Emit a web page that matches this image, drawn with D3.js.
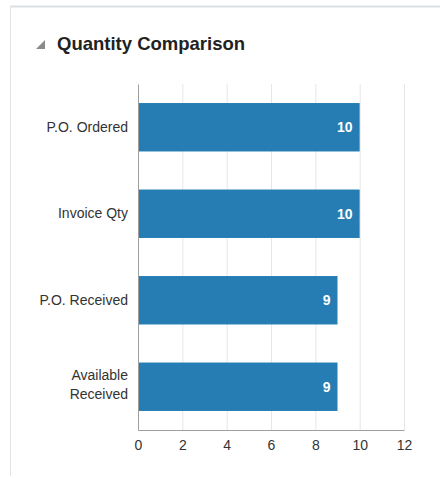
<!DOCTYPE html>
<html>
<head>
<meta charset="utf-8">
<script src="https://cdn.jsdelivr.net/npm/d3@7"></script>
<style>
  body { margin: 0; background: #fff; font-family: "Liberation Sans", Arial, sans-serif; }
</style>
</head>
<body>
<div id="chart"></div>
<script>
// data
var categories = ["P.O. Ordered", "Invoice Qty", "P.O. Received", "Available Received"];
var quantities = [10, 10, 9, 9];
var xTicks = [0, 2, 4, 6, 8, 10, 12];

var svgWidth = 440;
var svgHeight = 478;

var margin = { top: 84, right: 36, bottom: 48, left: 138 };
var width = svgWidth - margin.left - margin.right;
var height = svgHeight - margin.top - margin.bottom;

var svg = d3.select("#chart")
    .append("svg")
    .attr("width", svgWidth)
    .attr("height", svgHeight);

// panel frame
svg.append("line")
    .attr("x1", 10).attr("x2", svgWidth)
    .attr("y1", 6.5).attr("y2", 6.5)
    .attr("stroke", "#dcdfe2").attr("stroke-width", 2);
svg.append("line")
    .attr("x1", 10.5).attr("x2", 10.5)
    .attr("y1", 6).attr("y2", 476)
    .attr("stroke", "#e3e3e3");

// title
svg.append("path")
    .attr("d", "M36,49 L45,49 L45,40 Z")
    .attr("fill", "#8a8a8a");
svg.append("text")
    .attr("x", 57)
    .attr("y", 50)
    .attr("font-size", "18.5px")
    .attr("font-weight", "bold")
    .attr("fill", "#222")
    .text("Quantity Comparison");

var chartGroup = svg.append("g")
    .attr("transform", `translate(${margin.left}, ${margin.top})`);

var xScale = d3.scaleLinear()
    .domain([0, 12])
    .range([0, width]);

var yScale = d3.scaleBand()
    .domain(categories)
    .range([0, height])
    .paddingInner(0.44)
    .paddingOuter(0.22);

// gridlines
chartGroup.append("g")
    .selectAll("line")
    .data(xTicks.slice(1))
    .enter()
    .append("line")
    .attr("x1", d => xScale(d) + 0.5)
    .attr("x2", d => xScale(d) + 0.5)
    .attr("y1", 0)
    .attr("y2", height)
    .attr("stroke", "#e6e6e6");

// bars
chartGroup.selectAll(".bar")
    .data(quantities)
    .enter()
    .append("rect")
    .attr("class", "bar")
    .attr("x", 0)
    .attr("y", (d, i) => yScale(categories[i]))
    .attr("width", d => xScale(d))
    .attr("height", yScale.bandwidth())
    .attr("fill", "#267db3");

// bar labels
chartGroup.selectAll(".barLabel")
    .data(quantities)
    .enter()
    .append("text")
    .attr("class", "barLabel")
    .attr("x", d => xScale(d) - 7)
    .attr("y", (d, i) => yScale(categories[i]) + yScale.bandwidth() / 2)
    .attr("dy", "0.35em")
    .attr("text-anchor", "end")
    .attr("font-size", "14px")
    .attr("font-weight", "bold")
    .attr("fill", "#fff")
    .text(d => d);

// x axis
var bottomAxis = d3.axisBottom(xScale)
    .tickValues(xTicks)
    .tickSize(0)
    .tickPadding(10);

var xAxis = chartGroup.append("g")
    .attr("transform", `translate(0, ${height})`)
    .call(bottomAxis);
xAxis.select(".domain").attr("stroke", "#9e9e9e");
xAxis.selectAll("text")
    .attr("font-size", "14px")
    .attr("font-family", "Liberation Sans, Arial, sans-serif")
    .attr("fill", "#333");

// y axis
var leftAxis = d3.axisLeft(yScale).tickSize(0).tickPadding(10);
var yAxis = chartGroup.append("g").call(leftAxis);
yAxis.select(".domain").attr("stroke", "#9e9e9e");
yAxis.selectAll("text")
    .attr("font-size", "14px")
    .attr("font-family", "Liberation Sans, Arial, sans-serif")
    .attr("fill", "#333")
    .each(function(d) {
        var words = d.split(" ");
        if (d === "Available Received") {
            var t = d3.select(this).text(null);
            words.forEach(function(w, i) {
                t.append("tspan")
                    .attr("x", -10)
                    .attr("dy", i === 0 ? "-0.5em" : "1.35em")
                    .text(w);
            });
        }
    });
</script>
</body>
</html>
